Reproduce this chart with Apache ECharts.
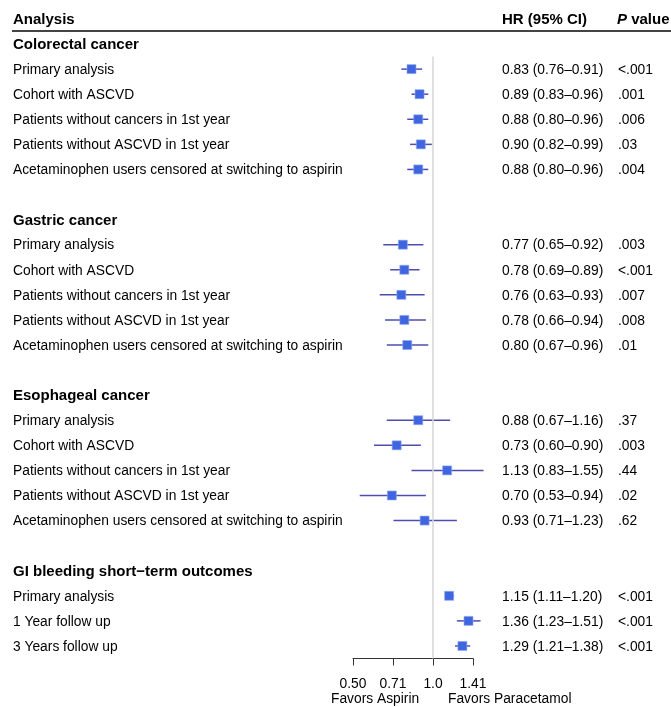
<!DOCTYPE html>
<html>
<head>
<meta charset="utf-8">
<script src="https://cdn.jsdelivr.net/npm/echarts@6/dist/echarts.min.js"></script>
<style>html,body{margin:0;padding:0;background:#fff}#c{width:671px;height:707px}</style>
</head>
<body>
<div id="c"></div>
<script>
// ---- data ----
const groupNames = ['Colorectal cancer', 'Gastric cancer', 'Esophageal cancer', 'GI bleeding short\u2212term outcomes'];
const cancerAnalyses = ['Primary analysis', 'Cohort with ASCVD', 'Patients without cancers in 1st year', 'Patients without ASCVD in 1st year', 'Acetaminophen users censored at switching to aspirin'];
const giAnalyses = ['Primary analysis', '1 Year follow up', '3 Years follow up'];

const hrColorectal = [0.83, 0.89, 0.88, 0.90, 0.88];
const loColorectal = [0.76, 0.83, 0.80, 0.82, 0.80];
const hiColorectal = [0.91, 0.96, 0.96, 0.99, 0.96];
const pColorectal = ['<.001', '.001', '.006', '.03', '.004'];

const hrGastric = [0.77, 0.78, 0.76, 0.78, 0.80];
const loGastric = [0.65, 0.69, 0.63, 0.66, 0.67];
const hiGastric = [0.92, 0.89, 0.93, 0.94, 0.96];
const pGastric = ['.003', '<.001', '.007', '.008', '.01'];

const hrEsophageal = [0.88, 0.73, 1.13, 0.70, 0.93];
const loEsophageal = [0.67, 0.60, 0.83, 0.53, 0.71];
const hiEsophageal = [1.16, 0.90, 1.55, 0.94, 1.23];
const pEsophageal = ['.37', '.003', '.44', '.02', '.62'];

const hrGI = [1.15, 1.36, 1.29];
const loGI = [1.11, 1.23, 1.21];
const hiGI = [1.20, 1.51, 1.38];
const pGI = ['<.001', '<.001', '<.001'];

const tickValues = [0.5, 0.71, 1.0, 1.41];
const tickLabels = ['0.50', '0.71', '1.0', '1.41'];

// ---- build rows ----
const groups = [
  { name: groupNames[0], labels: cancerAnalyses, hr: hrColorectal, lo: loColorectal, hi: hiColorectal, p: pColorectal },
  { name: groupNames[1], labels: cancerAnalyses, hr: hrGastric, lo: loGastric, hi: hiGastric, p: pGastric },
  { name: groupNames[2], labels: cancerAnalyses, hr: hrEsophageal, lo: loEsophageal, hi: hiEsophageal, p: pEsophageal },
  { name: groupNames[3], labels: giAnalyses, hr: hrGI, lo: loGI, hi: hiGI, p: pGI }
];
const leftText = [], hrText = [], pText = [], isHeader = [], points = [];
const f2 = v => v.toFixed(2);
groups.forEach((g, gi) => {
  if (gi > 0) { leftText.push(''); hrText.push(''); pText.push(''); isHeader.push(false); }
  leftText.push(g.name); hrText.push(''); pText.push(''); isHeader.push(true);
  g.labels.forEach((lab, i) => {
    const row = leftText.length;
    leftText.push(lab);
    hrText.push(f2(g.hr[i]) + ' (' + f2(g.lo[i]) + '\u2013' + f2(g.hi[i]) + ')');
    pText.push(g.p[i]);
    isHeader.push(false);
    points.push([Math.log2(g.hr[i]), Math.log2(g.lo[i]), Math.log2(g.hi[i]), row]);
  });
});
const nRows = leftText.length;
const rowIdx = leftText.map((_, i) => String(i));

const FONT = "'Liberation Sans', Arial, Helvetica, sans-serif";
const FS = 13.8;
const TXT = '#000';
const chart = echarts.init(document.getElementById('c'), null, { renderer: 'canvas' });

const catAxis = (pos, margin, texts, rich) => ({
  type: 'category', position: pos, inverse: true, gridIndex: 0,
  data: rowIdx, min: 0, max: nRows - 1, boundaryGap: true,
  axisLine: { show: false }, axisTick: { show: false }, splitLine: { show: false },
  axisLabel: {
    show: true, interval: 0, margin: margin, align: 'left',
    color: TXT, fontFamily: FONT, fontSize: FS, padding: [2, 0, 0, 0],
    formatter: (v, idx) => {
      const t = texts[+v];
      if (!t) return '';
      return isHeader[+v] ? '{b|' + t + '}' : t;
    },
    rich: rich
  }
});

chart.setOption({
  animation: false,
  grid: { left: 353, right: 198, top: 31.5, height: 627, containLabel: false },
  xAxis: {
    type: 'value', min: Math.log2(0.5), max: 0.5, interval: 0.5, position: 'bottom',
    axisLine: { show: true, onZero: false, lineStyle: { color: '#333', width: 1 } },
    axisTick: { show: true, inside: false, length: 7, lineStyle: { color: '#333', width: 1 } },
    splitLine: { show: false },
    axisLabel: {
      margin: 19, color: TXT, fontFamily: FONT, fontSize: FS,
      formatter: v => {
        let best = 0, d = Infinity;
        tickValues.forEach((t, i) => { const dd = Math.abs(Math.log2(t) - v); if (dd < d) { d = dd; best = i; } });
        return tickLabels[best];
      }
    }
  },
  yAxis: [
    { type: 'value', min: -0.5, max: nRows - 0.5, inverse: true, show: false },
    catAxis('left', 340, leftText, { b: { fontWeight: 'bold', fontSize: 15, fontFamily: FONT, color: TXT } }),
    catAxis('right', 29, hrText, {}),
    catAxis('right', 145, pText, {})
  ],
  graphic: [
    { type: 'text', left: 13, top: 12, style: { text: 'Analysis', font: "bold 15px " + FONT, fill: TXT } },
    { type: 'text', left: 502, top: 12, style: { text: 'HR (95% CI)', font: "bold 15px " + FONT, fill: TXT } },
    { type: 'text', left: 617, top: 12, style: { text: '{i|P} value', rich: { i: { fontStyle: 'italic', fontWeight: 'bold', fontSize: 15, fontFamily: FONT } }, font: "bold 15px " + FONT, fill: TXT } },
    { type: 'line', shape: { x1: 12, y1: 31, x2: 671, y2: 31 }, style: { stroke: '#444', lineWidth: 2 } },
    { type: 'text', left: 331, top: 692, style: { text: 'Favors Aspirin', font: FS + "px " + FONT, fill: TXT } },
    { type: 'text', left: 448, top: 692, style: { text: 'Favors Paracetamol', font: FS + "px " + FONT, fill: TXT } }
  ],
  series: [{
    type: 'custom',
    xAxisIndex: 0, yAxisIndex: 0,
    clip: false,
    data: points,
    encode: { x: [0, 1, 2], y: 3 },
    renderItem: (params, api) => {
      const y = api.value(3);
      const c = api.coord([api.value(0), y]);
      const lo = api.coord([api.value(1), y]);
      const hi = api.coord([api.value(2), y]);
      return {
        type: 'group',
        children: [
          { type: 'line', shape: { x1: lo[0], y1: lo[1], x2: hi[0], y2: hi[1] }, style: { stroke: '#3a3aa6', lineWidth: 1.5, opacity: 0.9 } },
          { type: 'rect', shape: { x: c[0] - 4.5, y: c[1] - 4.5, width: 9, height: 9 }, style: { fill: '#3f66e0', stroke: '#8fa6ee', lineWidth: 0.6 } }
        ]
      };
    },
    markLine: {
      silent: true, symbol: 'none', label: { show: false },
      lineStyle: { color: '#d6d6d6', width: 1.5, type: 'solid' },
      data: [[{ coord: [0, 0.5] }, { coord: [0, nRows - 0.5] }]]
    },
    z: 3
  }]
});
</script>
</body>
</html>
